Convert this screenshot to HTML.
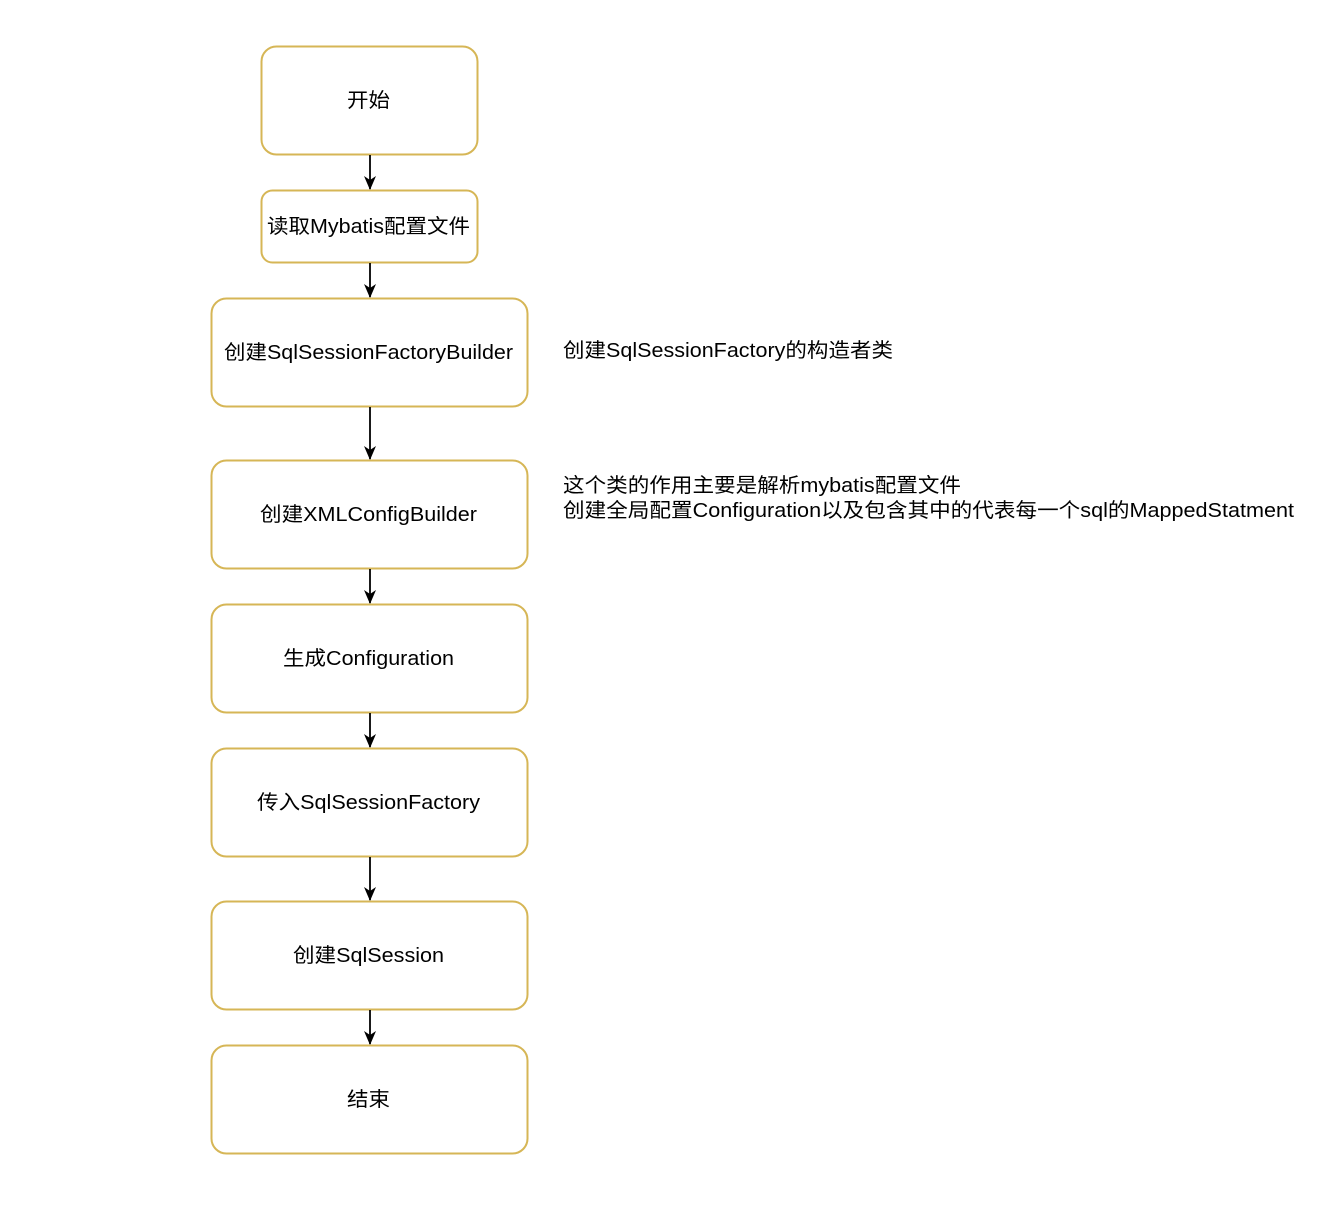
<!DOCTYPE html>
<html><head><meta charset="utf-8"><style>
body{margin:0;width:1326px;height:1214px;background:#fff;overflow:hidden;font-family:"Liberation Sans","Noto Sans CJK SC",sans-serif;}
</style></head><body>
<svg width="1326" height="1214" xmlns="http://www.w3.org/2000/svg" style="position:absolute;left:0;top:0">
<defs><marker id="a" markerWidth="14" markerHeight="14" refX="13" refY="7" orient="auto" markerUnits="userSpaceOnUse"><path d="M0,1 L14,7 L0,13 L4,7 z" fill="#000"/></marker></defs>
<g fill="#fff" stroke="#d6b656" stroke-width="2">
<rect x="261.5" y="46.5" width="216" height="108" rx="15"/>
<rect x="261.5" y="190.5" width="216" height="72" rx="11"/>
<rect x="211.5" y="298.5" width="316" height="108" rx="15"/>
<rect x="211.5" y="460.5" width="316" height="108" rx="15"/>
<rect x="211.5" y="604.5" width="316" height="108" rx="15"/>
<rect x="211.5" y="748.5" width="316" height="108" rx="15"/>
<rect x="211.5" y="901.5" width="316" height="108" rx="15"/>
<rect x="211.5" y="1045.5" width="316" height="108" rx="15"/>
</g>
<g stroke="#000" stroke-width="1.8" marker-end="url(#a)">
<line x1="370" y1="155" x2="370" y2="189"/>
<line x1="370" y1="263" x2="370" y2="297"/>
<line x1="370" y1="407" x2="370" y2="459"/>
<line x1="370" y1="569" x2="370" y2="603"/>
<line x1="370" y1="713" x2="370" y2="747"/>
<line x1="370" y1="857" x2="370" y2="900"/>
<line x1="370" y1="1010" x2="370" y2="1044"/>
</g>
<g font-size="20" fill="#000" font-family="Liberation Sans, Noto Sans CJK SC, sans-serif" lengthAdjust="spacingAndGlyphs">
<text x="347" y="107" textLength="43" lengthAdjust="spacingAndGlyphs">开始</text>
<text x="267" y="233" textLength="203" lengthAdjust="spacingAndGlyphs">读取Mybatis配置文件</text>
<text x="224" y="359" textLength="289" lengthAdjust="spacingAndGlyphs">创建SqlSessionFactoryBuilder</text>
<text x="260" y="521" textLength="217" lengthAdjust="spacingAndGlyphs">创建XMLConfigBuilder</text>
<text x="283" y="665" textLength="171" lengthAdjust="spacingAndGlyphs">生成Configuration</text>
<text x="257" y="809" textLength="223" lengthAdjust="spacingAndGlyphs">传入SqlSessionFactory</text>
<text x="293" y="962" textLength="151" lengthAdjust="spacingAndGlyphs">创建SqlSession</text>
<text x="347" y="1106" textLength="43" lengthAdjust="spacingAndGlyphs">结束</text>
<text x="563" y="357" textLength="330" lengthAdjust="spacingAndGlyphs">创建SqlSessionFactory的构造者类</text>
<text x="563" y="492" textLength="398" lengthAdjust="spacingAndGlyphs">这个类的作用主要是解析mybatis配置文件</text>
<text x="563" y="517" textLength="731" lengthAdjust="spacingAndGlyphs">创建全局配置Configuration以及包含其中的代表每一个sql的MappedStatment</text>
</g>
</svg>
</body></html>
